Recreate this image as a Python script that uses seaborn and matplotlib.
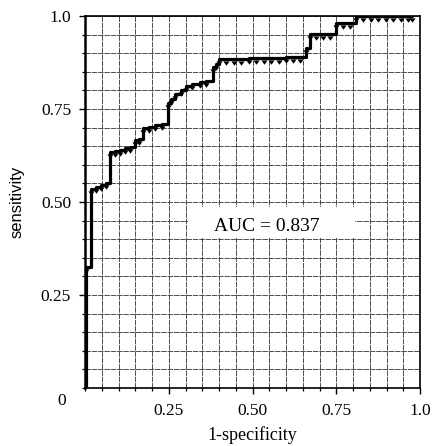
import numpy as np
import pandas as pd
import seaborn as sns
from matplotlib import pyplot as plt
from matplotlib.path import Path
from matplotlib.patches import Rectangle
from matplotlib.ticker import MultipleLocator

# ROC curve (steps-post vertices)
fpr = [0.004, 0.004, 0.019, 0.033, 0.047, 0.062, 0.075, 0.090, 0.105, 0.120,
       0.135, 0.149, 0.162, 0.173, 0.190, 0.210, 0.230, 0.247, 0.258, 0.268,
       0.285, 0.300, 0.320, 0.342, 0.360, 0.381, 0.392, 0.400, 0.420, 0.445,
       0.465, 0.490, 0.510, 0.535, 0.555, 0.580, 0.600, 0.620, 0.640, 0.658,
       0.672, 0.690, 0.710, 0.730, 0.750, 0.770, 0.790, 0.810, 0.830, 0.853,
       0.875, 0.897, 0.920, 0.942, 0.964, 0.975]
tpr = [0.000, 0.325, 0.535, 0.540, 0.545, 0.550, 0.635, 0.638, 0.641, 0.644,
       0.647, 0.667, 0.670, 0.700, 0.703, 0.706, 0.709, 0.767, 0.778, 0.790,
       0.800, 0.812, 0.818, 0.823, 0.826, 0.862, 0.872, 0.884, 0.884, 0.885,
       0.885, 0.886, 0.887, 0.887, 0.888, 0.888, 0.889, 0.889, 0.890, 0.913,
       0.952, 0.952, 0.952, 0.952, 0.982, 0.982, 0.982, 1.000, 1.000, 1.000,
       1.000, 1.000, 1.000, 1.000, 1.000, 1.000]
auc_label = "AUC = 0.837"
tick_values = [0.25, 0.5, 0.75, 1.0]
tick_labels = ["0.25", "0.50", "0.75", "1.0"]

roc = pd.DataFrame({"fpr": fpr, "tpr": tpr})

sns.set_theme(style="ticks")
plt.rcParams["font.family"] = ["Liberation Serif", "DejaVu Serif"]

fig = plt.figure(figsize=(4.37, 4.46), dpi=100)
ax = fig.add_axes([0.1945, 0.130, 0.767, 0.834])

# small triangle hanging just under the line
drop = Path([(-0.5, -0.3), (0.5, -0.3), (0.0, -1.0), (-0.5, -0.3)],
            [Path.MOVETO, Path.LINETO, Path.LINETO, Path.CLOSEPOLY])

sns.lineplot(data=roc, x="fpr", y="tpr", sort=False, estimator=None,
             drawstyle="steps-post", color="black", linewidth=2.3,
             marker=drop, markersize=9, markeredgewidth=0,
             markerfacecolor="black", ax=ax, zorder=3)

ax.set_xlim(0, 1)
ax.set_ylim(0, 1)
ax.xaxis.set_minor_locator(MultipleLocator(0.05))
ax.yaxis.set_minor_locator(MultipleLocator(0.05))
ax.set_xticks(tick_values, tick_labels)
ax.set_yticks(tick_values, tick_labels)
ax.grid(which="both", color="0.25", linestyle=(0, (6, 1)), linewidth=0.65)
ax.set_axisbelow(True)

ax.tick_params(axis="both", which="major", labelsize=12.5, color="black",
               labelcolor="black", width=1.0)
ax.tick_params(axis="x", which="major", length=4, pad=7)
ax.tick_params(axis="y", which="major", length=4.5, pad=5.5)
ax.tick_params(axis="both", which="minor", length=2.5, width=0.9, color="black")

for spine in ax.spines.values():
    spine.set_color("black")
    spine.set_linewidth(1.2)
ax.spines["left"].set_linewidth(1.8)

ax.annotate("0", xy=(0, 0), xycoords="data", xytext=(-17, -9),
            textcoords="offset points", ha="center", va="center",
            fontsize=12.5, color="black")

ax.add_patch(Rectangle((0.307, 0.403), 0.499, 0.084, transform=ax.transAxes,
                       facecolor="white", edgecolor="none", zorder=1))
ax.text(0.543, 0.435, auc_label, transform=ax.transAxes, ha="center",
        va="center", fontsize=14, color="black", zorder=4)

ax.set_xlabel("1-specificity", fontsize=13, color="black", labelpad=5)
ax.set_ylabel("sensitivity", fontsize=12, color="black", labelpad=12,
              family=["Liberation Sans", "DejaVu Sans"])

fig.savefig("out.png", dpi=100, facecolor="white")
plt.close(fig)
